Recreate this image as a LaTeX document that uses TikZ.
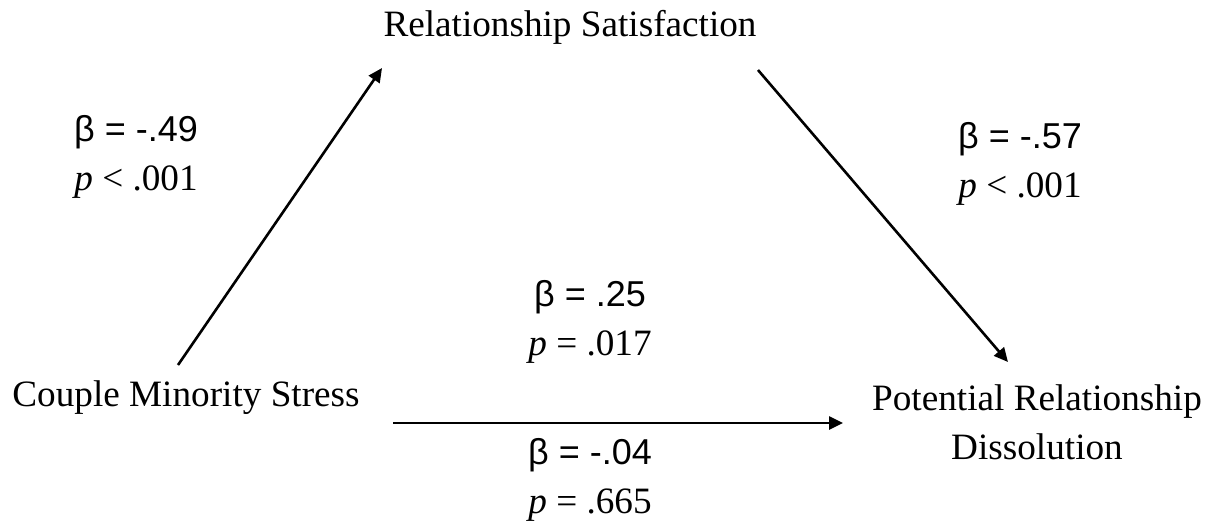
\documentclass[tikz,border=0pt]{standalone}
\usepackage{fontspec}
\setmainfont{Liberation Serif}
\newfontfamily\betafont{Liberation Sans}
\usetikzlibrary{arrows.meta}

\begin{document}
\begin{tikzpicture}[
    x=0.5pt, y=-0.5pt,
    font=\fontsize{18.6}{24.5}\selectfont,
    >={Triangle[length=7pt,width=6.5pt]},
    varbox/.style={
        align=center,
        inner sep=0pt
    },
    coefbox/.style={
        align=center,
        inner sep=0pt,
        font=\fontsize{18.6}{24.5}\selectfont
    },
    patharrow/.style={->, line width=1.3pt, draw=black}
]
    \useasboundingbox (0,0) rectangle (1226,527);

    \node[varbox] (sat) at (570,27) {Relationship Satisfaction};
    \node[varbox] (stress) at (186,398) {Couple Minority Stress};
    \node[varbox] (dissol) at (1037,422) {Potential Relationship\\Dissolution};

    \node[coefbox] (coefa) at (136,157) {{\betafont\fontsize{18}{24.5}\selectfont β = -.49}\\\textit{p} < .001};
    \node[coefbox] (coefb) at (1020,164) {{\betafont\fontsize{18}{24.5}\selectfont β = -.57}\\\textit{p} < .001};
    \node[coefbox] (coefc) at (590,322) {{\betafont\fontsize{18}{24.5}\selectfont β = .25}\\\textit{p} = .017};
    \node[coefbox] (coefd) at (590,480) {{\betafont\fontsize{18}{24.5}\selectfont β = -.04}\\\textit{p} = .665};

    \draw[patharrow] ([shift={(-8,-33)}]stress.center) -- ([shift={(-188,41)}]sat.center);
    \draw[patharrow] ([shift={(188,43)}]sat.center) -- ([shift={(-29,-60)}]dissol.center);
    \draw[patharrow] ([shift={(207,25)}]stress.center) -- ([shift={(-194,1)}]dissol.center);

\end{tikzpicture}
\end{document}
